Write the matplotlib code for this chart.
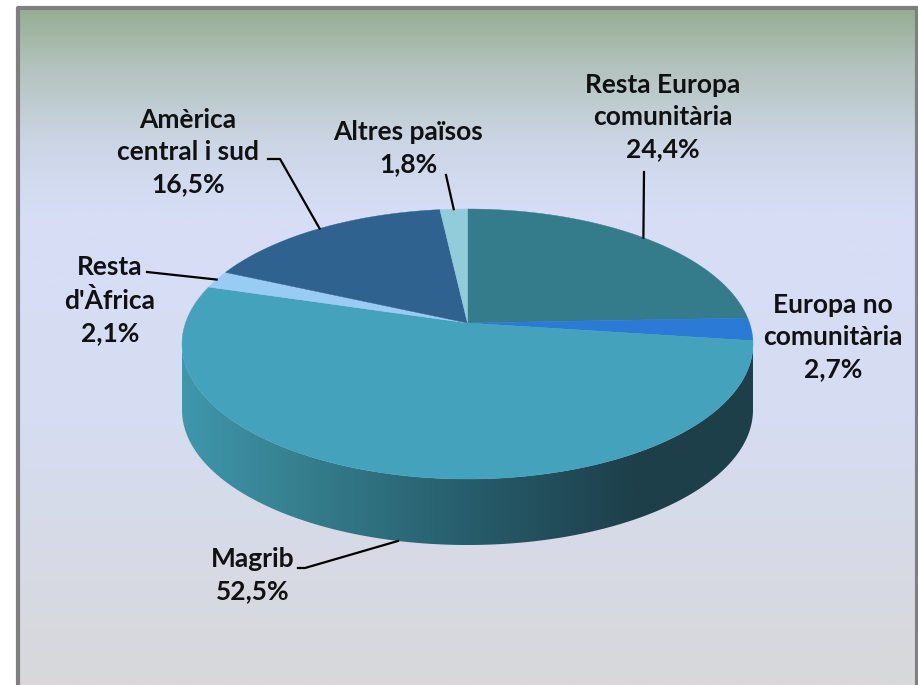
import numpy as np
import matplotlib
matplotlib.use("Agg")
import matplotlib.pyplot as plt
from matplotlib.patches import Polygon
from matplotlib.colors import LinearSegmentedColormap

# Data
labels = ["Resta Europa\ncomunitària", "Europa no\ncomunitària", "Magrib",
          "Resta\nd'Àfrica", "Amèrica\ncentral i sud", "Altres països"]
values = [24.4, 2.7, 52.5, 2.1, 16.5, 1.8]
colors = ["#347B8C", "#2A7AD6", "#45A2BC", "#99CCF5", "#30628F", "#92CCDA"]

# label text centres (pixels) and leader elbows
label_pos = [(663, 117), (833, 337), (253, 575), (110, 300), (188, 152), (408, 148)]
leader_start = [(644, 172), None, (298, 568), (147, 272), (268, 159), (446, 175)]
leader_elbow = [None, None, (305, 568), None, (280, 159), None]

plt.rcParams["font.family"] = ["Lato", "DejaVu Sans"]

W, H = 918, 685
fig = plt.figure(figsize=(W / 100, H / 100), dpi=100)
ax = fig.add_axes([0, 0, 1, 1])

# background panel with vertical gradient
stops = [(0.0, "#97AE95"), (0.08, "#B2C2BC"), (0.2, "#CDD6E6"), (0.3, "#D6DEF6"),
         (0.6, "#D6DDF2"), (1.0, "#D8D8DA")]
bg_cmap = LinearSegmentedColormap.from_list("bg", stops)
grad = np.linspace(0, 1, 300).reshape(-1, 1)
ax.imshow(grad, cmap=bg_cmap, extent=(18, 916, H, 8), aspect="auto", origin="upper", zorder=0)
ax.plot([17.5, 17.5, 916.5, 916.5], [H, 8, 8, H], color="#7F7F7F", lw=3, zorder=1)

# perspective pie geometry
cx, cy = 467.5, 344
a, b, c, k = 282, 135, -21, -0.1556
depth = 66


def proj(theta_deg, dz=0):
    t = np.radians(theta_deg)
    u, v = np.sin(t), -np.cos(t)
    d = 1 + k * v
    return cx + a * u / d, cy + (b * v + c) / d + dz


# side (front rim) with horizontal shading
th_r = np.degrees(np.arccos(c / b))
th_l = 360 - th_r
ts = np.linspace(th_r, th_l, 300)
top_x, top_y = proj(ts)
bot_x, bot_y = proj(ts[::-1], depth)
side = Polygon(np.column_stack([np.r_[top_x, bot_x], np.r_[top_y, bot_y]]),
               closed=True, facecolor="none", edgecolor="none", zorder=2)
ax.add_patch(side)
side_cmap = LinearSegmentedColormap.from_list(
    "side", [(0, "#3F97AC"), (0.2, "#36808F"), (0.5, "#275D6C"), (0.8, "#1D3F4A"), (1, "#1D3F4A")])
xg = np.linspace(0, 1, 400).reshape(1, -1)
im = ax.imshow(xg, cmap=side_cmap,
               extent=(top_x.min() - 2, top_x.max() + 2, bot_y.max() + 2, top_y.min() - 2),
               aspect="auto", origin="upper", zorder=2)
im.set_clip_path(side)

# top face slices
bounds = np.r_[0, np.cumsum(values)] / sum(values) * 360
for i, col in enumerate(colors):
    t = np.linspace(bounds[i], bounds[i + 1], max(int((bounds[i + 1] - bounds[i]) * 2), 4))
    px, py = proj(t)
    ax.add_patch(Polygon(np.column_stack([np.r_[cx, px], np.r_[cy + c, py]]),
                         closed=True, facecolor=col, edgecolor=col, lw=0.3, zorder=3))

# labels and leader lines
for i, lab in enumerate(labels):
    pct = f"{values[i]:.1f}".replace(".", ",") + "%"
    tx, ty = label_pos[i]
    ax.text(tx, ty, f"{lab}\n{pct}", ha="center", va="center", fontsize=19,
            fontweight="bold", color="#111111", linespacing=1.4, zorder=5)
    if leader_start[i] is None:
        continue
    mid = (bounds[i] + bounds[i + 1]) / 2
    front = 90 < mid < 270
    ex, ey = proj(mid, depth if front else 0)
    xs, ys = [leader_start[i][0]], [leader_start[i][1]]
    if leader_elbow[i] is not None:
        xs.append(leader_elbow[i][0])
        ys.append(leader_elbow[i][1])
    xs.append(ex)
    ys.append(ey)
    ax.plot(xs, ys, color="black", lw=1.6, zorder=4)

ax.set_xlim(0, W)
ax.set_ylim(H, 0)
ax.axis("off")

fig.savefig("out.png", dpi=100)
